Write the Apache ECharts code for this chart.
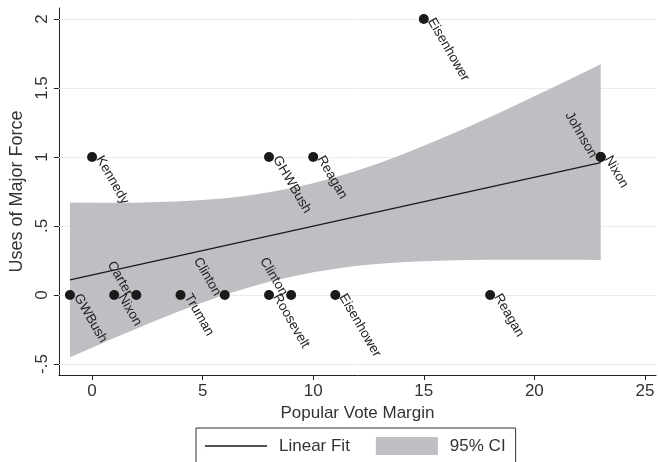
<!DOCTYPE html>
<html><head><meta charset="utf-8">
<script src="https://cdn.jsdelivr.net/npm/echarts@6/dist/echarts.min.js"></script>
<style>html,body{margin:0;padding:0;background:#fff}#c{width:658px;height:462px}</style>
</head><body><div id="c"></div>
<script>
// ---- data ----
const presidents = ['GWBush','Kennedy','Nixon','Carter','Truman','Clinton','Roosevelt','GHWBush','Clinton','Reagan','Eisenhower','Eisenhower','Reagan','Johnson','Nixon'];
const margins    = [-1, 0, 1, 2, 4, 6, 8, 8, 9, 10, 11, 15, 18, 23, 23];
const forceUses  = [ 0, 1, 0, 0, 0, 0, 0, 1, 0,  1,  0,  2,  0,  1,  1];
const fitX = [-1, 23];
const fitY = [0.11, 0.96];
const ciX     = [-1, 0, 1, 2, 3, 4, 5, 6, 7, 8, 9, 10, 11, 12, 13, 14, 15, 16, 17, 18, 19, 20, 21, 22, 23];
const ciUpper = [0.670,0.669,0.668,0.669,0.673,0.679,0.688,0.701,0.720,0.744,0.774,0.810,0.853,0.902,0.957,1.017,1.081,1.148,1.218,1.290,1.364,1.440,1.517,1.595,1.673];
const ciLower = [-0.452,-0.382,-0.312,-0.244,-0.178,-0.114,-0.054,0.001,0.051,0.095,0.133,0.165,0.191,0.211,0.226,0.237,0.245,0.250,0.253,0.255,0.256,0.256,0.256,0.255,0.254];
const xTicks = [0, 5, 10, 15, 20, 25];
const yTicks = [-0.5, 0, 0.5, 1, 1.5, 2];
const yTickLabels = ['-.5', '0', '.5', '1', '1.5', '2'];

// ---- styling ----
const FONT = "'Liberation Sans', Arial, Helvetica, sans-serif";
const leftLabelled = [3, 5, 8, 13];
const BAND = '#bebfc3';
const INK = '#1a1a1a';
const LINE_ICON = 'path://M0,8.35 H62 V9.65 H0 Z M0,0 H0.01 V18 H0 Z';

const chart = echarts.init(document.getElementById('c'), null, {renderer: 'canvas'});

const points = margins.map((m, i) => ({
  value: [m, forceUses[i]],
  name: presidents[i],
  label: {position: leftLabelled.includes(i) ? 'left' : 'right'}
}));

chart.setOption({
  animation: false,
  textStyle: {fontFamily: FONT},
  grid: {left: 58, right: 2, top: 8, bottom: 87},
  legend: {
    left: 196, top: 428,
    orient: 'horizontal',
    itemWidth: 62, itemHeight: 18, itemGap: 26,
    padding: [9, 10, 9, 9],
    borderColor: '#333', borderWidth: 1,
    textStyle: {fontSize: 17, color: '#333', fontFamily: FONT, padding: [0, 0, 0, 7]},
    data: [{name: 'Linear Fit', icon: LINE_ICON}, {name: '95% CI', icon: 'rect'}]
  },
  xAxis: {
    type: 'value', min: -1.5, max: 25.5,
    name: 'Popular Vote Margin', nameLocation: 'middle', nameGap: 27,
    nameTextStyle: {fontSize: 17, color: '#333', fontFamily: FONT},
    axisLine: {show: true, onZero: false, lineStyle: {color: '#222', width: 1}},
    axisTick: {show: true, length: 5, lineStyle: {color: '#222'}, customValues: xTicks},
    axisLabel: {fontSize: 17, color: '#333', margin: 8, customValues: xTicks, fontFamily: FONT},
    splitLine: {show: false}
  },
  yAxis: {
    type: 'value', min: -0.58, max: 2.08,
    name: 'Uses of Major Force', nameLocation: 'middle', nameGap: 28, nameRotate: 90,
    nameTextStyle: {fontSize: 18, color: '#333', fontFamily: FONT},
    axisLine: {show: true, onZero: false, lineStyle: {color: '#222', width: 1}},
    axisTick: {show: true, length: 5, lineStyle: {color: '#222'}, customValues: yTicks},
    axisLabel: {
      fontSize: 17, color: '#333', margin: 8, rotate: 90, customValues: yTicks, fontFamily: FONT,
      formatter: v => { const k = yTicks.findIndex(t => Math.abs(t - v) < 1e-9); return k >= 0 ? yTickLabels[k] : ''; }
    },
    splitLine: {show: false}
  },
  series: [
    {
      name: 'grid', type: 'line', data: [], z: 1, silent: true,
      markLine: {
        z: 1, silent: true, symbol: ['none', 'none'], label: {show: false},
        lineStyle: {color: '#ececec', type: 'solid', width: 1},
        data: yTicks.map(v => ({yAxis: v}))
      }
    },
    {
      name: '95% CI', type: 'custom', coordinateSystem: 'cartesian2d', z: 2, silent: true,
      itemStyle: {color: BAND},
      data: [[ciX[0], ciUpper[0]]],
      renderItem: (params, api) => {
        const pts = [];
        for (let i = 0; i < ciX.length; i++) pts.push(api.coord([ciX[i], ciUpper[i]]));
        for (let i = ciX.length - 1; i >= 0; i--) pts.push(api.coord([ciX[i], ciLower[i]]));
        return {type: 'polygon', shape: {points: pts}, style: {fill: BAND}};
      }
    },
    {
      name: 'Linear Fit', type: 'line', z: 3, symbol: 'none', silent: true,
      color: INK,
      lineStyle: {color: INK, width: 1.3},
      data: fitX.map((x, i) => [x, fitY[i]])
    },
    {
      name: 'Presidents', type: 'scatter', z: 4, silent: true,
      symbol: 'circle', symbolSize: 10,
      itemStyle: {color: INK, opacity: 1},
      label: {show: true, formatter: '{b}', rotate: -60, distance: 2, fontSize: 13.5, color: '#222', fontFamily: FONT},
      data: points
    }
  ]
});
</script>
</body></html>
